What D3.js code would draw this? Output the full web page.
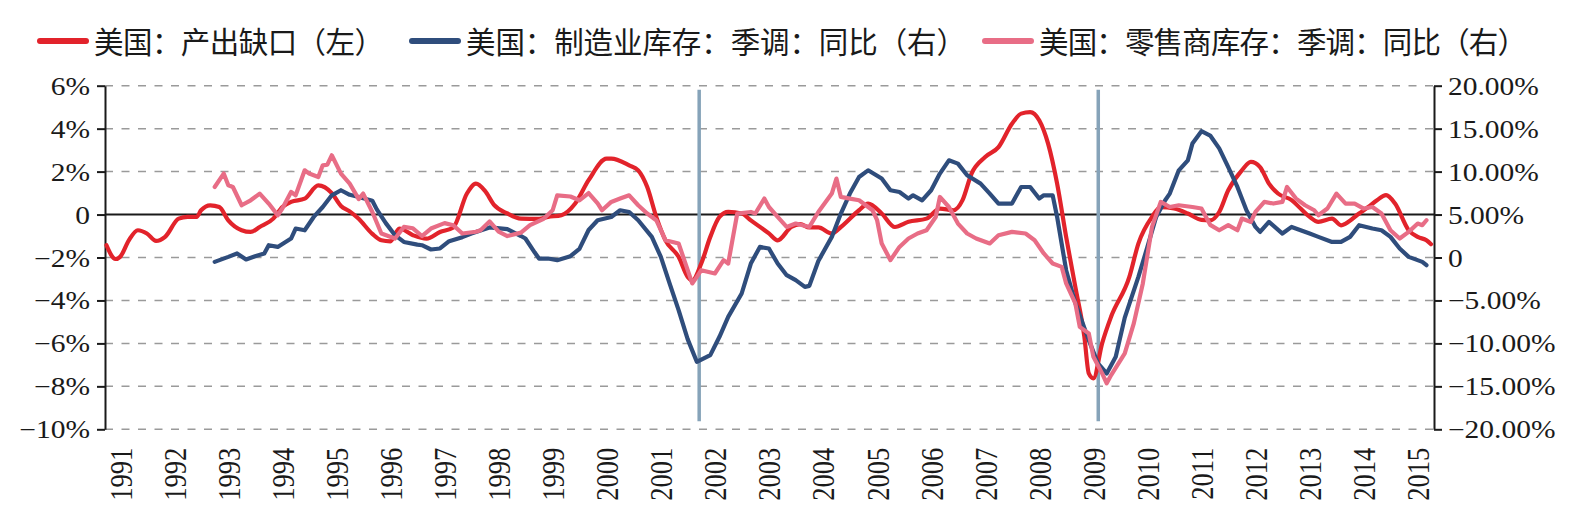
<!DOCTYPE html>
<html>
<head>
<meta charset="utf-8">
<script src="https://cdn.jsdelivr.net/npm/d3@7"></script>
<style>
  html, body { margin: 0; padding: 0; background: #fff; }
  svg { display: block; }
  .num-label { font-family: "Liberation Serif", "Times New Roman", serif; fill: #1a1a1a; }
  .legend-text { font-family: "Noto Sans CJK SC", sans-serif; fill: #1a1a1a; }
</style>
</head>
<body>
<div id="chart"></div>
<script>
(function() {
    'use strict';

    // 美国：产出缺口（左）
    var gapDates = ['1990-10','1990-12','1991-01','1991-03','1991-05','1991-07','1991-09','1991-11',
      '1992-02','1992-04','1992-06','1992-07','1992-09','1992-11','1993-01','1993-04','1993-06','1993-08',
      '1993-11','1994-01','1994-03','1994-06','1994-09','1994-12','1995-02','1995-04','1995-06','1995-09',
      '1995-11','1996-01','1996-03','1996-06','1996-09','1996-12','1997-03','1997-06','1997-08','1997-10',
      '1997-12','1998-03','1998-06','1998-10','1998-12','1999-03','1999-06','1999-09','2000-01','2000-02',
      '2000-06','2000-08','2000-10','2000-12','2001-02','2001-05','2001-07','2001-08','2001-10','2001-12',
      '2002-02','2002-04','2002-07','2002-09','2003-01','2003-03','2003-06','2003-08','2003-10','2003-12',
      '2004-03','2004-05','2004-09','2004-11','2005-02','2005-05','2005-08','2005-12','2006-03','2006-06',
      '2006-08','2006-10','2007-01','2007-04','2007-07','2007-09','2007-11','2008-01','2008-03','2008-05',
      '2008-07','2008-09','2008-11','2008-12','2009-01','2009-03','2009-05','2009-09','2009-11','2010-02',
      '2010-04','2010-07','2010-10','2011-01','2011-03','2011-05','2011-07','2011-10','2011-12','2012-02',
      '2012-04','2012-06','2012-09','2012-11','2013-01','2013-03','2013-06','2013-08','2013-09','2013-12',
      '2014-02','2014-04','2014-06','2014-08','2014-11','2015-01','2015-03','2015-04'];
    var gapValues = [-1.43,-2.07,-1.97,-1.2,-0.73,-0.88,-1.23,-1.04,
      -0.19,-0.11,-0.11,0.2,0.43,0.35,-0.27,-0.73,-0.81,-0.58,
      -0.19,0.35,0.59,0.74,1.36,1.0,0.4,0.15,-0.2,-0.9,
      -1.2,-1.25,-0.65,-0.96,-1.12,-0.81,-0.6,0.98,1.44,1.1,
      0.45,0.05,-0.19,-0.2,-0.11,-0.03,0.5,1.6,2.6,2.6,
      2.29,2.06,1.28,-0.11,-1.2,-1.97,-2.9,-3.06,-2.28,-1.04,
      -0.11,0.12,0.05,-0.27,-0.88,-1.2,-0.58,-0.45,-0.6,-0.6,
      -0.88,-0.58,0.2,0.51,0.05,-0.58,-0.34,-0.19,0.28,0.2,
      0.67,1.91,2.68,3.14,4.23,4.7,4.77,4.39,3.3,1.44,
      -1.04,-3.37,-5.69,-7.4,-7.63,-6.0,-4.75,-2.9,-1.35,-0.11,
      0.35,0.28,0.05,-0.25,-0.27,0.12,1.13,2.06,2.45,2.21,
      1.44,0.98,0.67,0.28,-0.11,-0.34,-0.19,-0.5,-0.42,0.05,
      0.35,0.67,0.9,0.51,-0.73,-1.04,-1.2,-1.38];

    // 美国：制造业库存：季调：同比（右）
    var mfgDates = ['1992-10','1993-01','1993-03','1993-05','1993-07','1993-09','1993-10','1993-12',
      '1994-03','1994-04','1994-06','1994-08','1994-10','1994-12','1995-02','1995-04','1995-06','1995-09',
      '1995-10','1995-12','1996-02','1996-04','1996-07','1996-08','1996-10','1996-12','1997-02','1997-05',
      '1997-07','1997-11','1998-03','1998-06','1998-07','1998-09','1998-10','1998-12','1999-02','1999-05',
      '1999-07','1999-09','1999-11','2000-02','2000-04','2000-06','2000-08','2000-11','2001-01','2001-03',
      '2001-05','2001-07','2001-09','2001-12','2002-02','2002-04','2002-07','2002-09','2002-11','2003-01',
      '2003-03','2003-05','2003-07','2003-09','2003-10','2003-12','2004-03','2004-05','2004-07','2004-09',
      '2004-11','2005-02','2005-04','2005-06','2005-08','2005-09','2005-11','2006-01','2006-03','2006-05',
      '2006-07','2006-09','2006-12','2007-02','2007-04','2007-07','2007-09','2007-11','2008-01','2008-02',
      '2008-04','2008-05','2008-07','2008-09','2008-12','2009-02','2009-04','2009-06','2009-08','2009-11',
      '2010-01','2010-03','2010-05','2010-06','2010-08','2010-10','2010-11','2011-01','2011-03','2011-05',
      '2011-07','2011-09','2011-11','2012-01','2012-02','2012-04','2012-07','2012-09','2012-11','2013-01',
      '2013-03','2013-06','2013-08','2013-10','2013-12','2014-03','2014-05','2014-07','2014-09','2014-11',
      '2015-02','2015-03'];
    var mfgValues = [-0.51,0.07,0.47,-0.23,0.15,0.47,1.43,1.23,
      2.21,3.37,3.17,4.72,5.88,7.24,7.83,7.3,7.05,6.6,
      5.6,4.0,2.6,1.81,1.5,1.43,0.93,1.05,1.9,2.37,
      2.8,3.5,3.3,2.5,2.21,0.6,-0.12,-0.12,-0.31,0.15,
      1.0,3.2,4.34,4.72,5.5,5.3,4.34,2.4,0.07,-3.02,
      -6.13,-9.5,-12.14,-11.36,-9.23,-6.91,-4.19,-0.7,1.23,1.05,
      -0.7,-2.06,-2.64,-3.42,-3.3,-0.4,2.4,5.12,7.44,9.37,
      10.15,9.19,7.83,7.63,6.86,7.24,6.66,7.83,9.77,11.31,
      10.93,9.57,8.6,7.44,6.28,6.28,8.21,8.21,6.86,7.24,
      7.24,4.72,-1.48,-5.3,-9.62,-12.33,-13.5,-11.56,-7.0,-2.26,
      1.23,4.72,6.66,7.44,10.15,11.31,13.26,14.7,14.2,12.7,
      10.53,8.21,5.5,3.56,2.98,4.14,2.79,3.56,3.17,2.79,
      2.4,1.81,1.81,2.4,3.76,3.37,3.17,2.4,1.05,0.07,
      -0.51,-0.9];

    // 美国：零售商库存：季调：同比（右）
    var retailDates = ['1992-10','1992-12','1993-01','1993-02','1993-04','1993-06','1993-08','1993-10',
      '1993-12','1994-01','1994-03','1994-04','1994-06','1994-07','1994-09','1994-10','1994-11','1994-12',
      '1995-02','1995-04','1995-06','1995-07','1995-09','1995-11','1996-02','1996-04','1996-06','1996-08',
      '1996-10','1997-01','1997-03','1997-05','1997-08','1997-09','1997-11','1998-01','1998-03','1998-06',
      '1998-08','1998-11','1999-01','1999-02','1999-05','1999-07','1999-09','1999-11','1999-12','2000-02',
      '2000-04','2000-06','2000-08','2000-10','2000-12','2001-02','2001-05','2001-06','2001-08','2001-09',
      '2001-10','2002-01','2002-03','2002-04','2002-06','2002-09','2002-10','2002-12','2003-01','2003-03',
      '2003-05','2003-07','2003-10','2003-12','2004-03','2004-04','2004-05','2004-07','2004-09','2004-12',
      '2005-01','2005-02','2005-04','2005-06','2005-08','2005-10','2005-12','2006-02','2006-03','2006-05',
      '2006-07','2006-09','2006-11','2007-02','2007-04','2007-07','2007-10','2007-12','2008-02','2008-04',
      '2008-06','2008-07','2008-09','2008-10','2008-12','2009-01','2009-03','2009-04','2009-05','2009-08',
      '2009-10','2009-12','2010-02','2010-04','2010-06','2010-08','2010-11','2011-01','2011-03','2011-05',
      '2011-07','2011-09','2011-10','2011-12','2012-01','2012-03','2012-05','2012-07','2012-08','2012-10',
      '2012-12','2013-02','2013-03','2013-05','2013-07','2013-09','2013-11','2014-01','2014-03','2014-05',
      '2014-07','2014-09','2014-11','2015-01','2015-02','2015-03'];
    var retailValues = [8.21,9.77,8.41,8.21,6.08,6.66,7.44,6.28,
      4.92,5.7,7.63,7.24,10.15,9.77,9.37,10.73,10.8,11.9,
      9.77,8.6,6.8,7.44,5.3,2.79,2.21,3.56,3.4,2.5,
      3.37,4.0,3.76,2.79,3.0,3.17,4.2,3.0,2.5,2.9,
      3.76,4.5,5.5,7.24,7.1,6.66,7.5,6.3,5.5,6.47,
      6.86,7.24,6.08,5.12,4.34,2.01,1.63,0.07,-3.02,-2.26,
      -1.48,-1.86,-0.31,-0.7,5.12,5.3,5.12,6.86,5.88,4.72,
      3.56,3.95,3.56,5.3,7.44,9.19,7.05,6.86,6.66,5.5,
      4.34,1.63,-0.31,1.23,2.21,2.79,3.17,4.72,7.05,5.88,
      3.95,2.79,2.21,1.63,2.59,2.98,2.79,2.01,0.47,-0.7,
      -1.09,-3.02,-5.35,-8.07,-8.84,-11.56,-13.49,-14.65,-13.69,-11.16,
      -7.67,-3.02,3.56,6.47,5.88,6.08,5.88,5.7,3.8,3.17,
      3.76,3.17,4.53,4.14,5.3,6.47,6.28,6.47,8.21,6.86,
      6.08,5.5,4.92,5.7,7.44,6.28,6.28,5.7,5.88,5.12,
      3.17,2.21,2.98,3.95,3.76,4.34];

    var leftTicks = [6, 4, 2, 0, -2, -4, -6, -8, -10];
    var rightTicks = [20, 15, 10, 5, 0, -5, -10, -15, -20];
    var yearTicks = d3.range(1991, 2016);
    var markerDates = ['2001-09-17', '2009-02-03'];

    var legendItems = [
        {name: '美国：产出缺口（左）', color: '#e2232b', x: 38, width: 290},
        {name: '美国：制造业库存：季调：同比（右）', color: '#2f4d7c', x: 410, width: 500},
        {name: '美国：零售商库存：季调：同比（右）', color: '#e86d86', x: 983, width: 488}
    ];

    var fullWidth = 1586, fullHeight = 532;
    var stretch = 1.18;   // numbers in the source are drawn a bit wide

    var chartAreaSz = {left: 105, right: 1434, top: 85.7, bottom: 429.3};

    var parseMonth = d3.timeParse('%Y-%m');
    var parseDay = d3.timeParse('%Y-%m-%d');

    function toPoints(dates, values) {
        return dates.map(function(d, i) { return {x: parseMonth(d), y: values[i]}; });
    }

    var x = d3.scaleTime()
      .domain([new Date(1990, 8, 21), new Date(2015, 3, 21)])
      .range([chartAreaSz.left, chartAreaSz.right]);

    var yLeft = d3.scaleLinear()
      .domain([-10, 6])
      .range([chartAreaSz.bottom, chartAreaSz.top]);

    var yRight = d3.scaleLinear()
      .domain([-20, 20])
      .range([chartAreaSz.bottom, chartAreaSz.top]);

    var svg = d3.select('#chart')
    .append('svg')
      .attr('width', fullWidth)
      .attr('height', fullHeight)
      .attr('viewBox', '0 0 ' + fullWidth + ' ' + fullHeight);

    // grid
    svg.append('g')
      .attr('id', 'horizontalGrid')
    .selectAll('line')
    .data(leftTicks.filter(function(d) { return d !== 0; }))
    .enter().append('line')
      .attr('x1', chartAreaSz.left)
      .attr('x2', chartAreaSz.right)
      .attr('y1', function(d) { return yLeft(d); })
      .attr('y2', function(d) { return yLeft(d); })
      .attr('stroke', '#9a9a9a')
      .attr('stroke-width', 1.5)
      .attr('stroke-dasharray', '8,8.5');

    svg.append('line')
      .attr('x1', chartAreaSz.left)
      .attr('x2', chartAreaSz.right)
      .attr('y1', yLeft(0))
      .attr('y2', yLeft(0))
      .attr('stroke', '#1a1a1a')
      .attr('stroke-width', 2);

    // recession markers
    svg.append('g')
      .attr('id', 'markers')
    .selectAll('line')
    .data(markerDates)
    .enter().append('line')
      .attr('x1', function(d) { return x(parseDay(d)); })
      .attr('x2', function(d) { return x(parseDay(d)); })
      .attr('y1', chartAreaSz.top + 4)
      .attr('y2', chartAreaSz.bottom - 8)
      .attr('stroke', '#86a3b9')
      .attr('stroke-width', 3.5);

    // axes
    var fmtLeft = d3.format('d');
    var fmtRight = d3.format('.2f');

    var yAxisLeft = d3.axisLeft(yLeft)
      .tickValues(leftTicks)
      .tickSize(8)
      .tickSizeOuter(0)
      .tickFormat(function(d) { return d === 0 ? '0' : fmtLeft(d) + '%'; });

    var gLeft = svg.append('g')
      .attr('transform', 'translate(' + chartAreaSz.left + ',0)')
      .call(yAxisLeft);

    var yAxisRight = d3.axisRight(yRight)
      .tickValues(rightTicks)
      .tickSize(8)
      .tickSizeOuter(0)
      .tickFormat(function(d) { return d === 0 ? '0' : fmtRight(d) + '%'; });

    var gRight = svg.append('g')
      .attr('transform', 'translate(' + chartAreaSz.right + ',0)')
      .call(yAxisRight);

    [gLeft, gRight].forEach(function(g) {
        g.select('.domain').attr('stroke', '#1a1a1a').attr('stroke-width', 2);
        g.selectAll('.tick line').attr('stroke', '#1a1a1a').attr('stroke-width', 2);
        g.selectAll('text')
          .attr('class', 'num-label')
          .attr('font-size', 25)
          .attr('fill', '#1a1a1a')
          .attr('dy', '0.34em')
          .attr('transform', 'scale(' + stretch + ',1)');
    });
    gLeft.selectAll('text').attr('x', -15 / stretch);
    gRight.selectAll('text').attr('x', 14 / stretch);

    var xAxis = d3.axisBottom(x)
      .tickValues(yearTicks.map(function(yr) { return new Date(yr, 0, 1); }))
      .tickSize(0)
      .tickFormat(d3.timeFormat('%Y'));

    var gX = svg.append('g')
      .attr('transform', 'translate(0,' + chartAreaSz.bottom + ')')
      .call(xAxis);

    gX.select('.domain').remove();
    gX.selectAll('text')
      .attr('class', 'num-label')
      .attr('font-size', 26.5)
      .attr('fill', '#1a1a1a')
      .attr('x', 0)
      .attr('y', 0)
      .attr('dy', '0.35em')
      .attr('text-anchor', 'end')
      .attr('transform', 'translate(0,18.5) scale(' + stretch + ',1) rotate(-90)');

    // series
    var series = [
        {points: toPoints(gapDates, gapValues), y: yLeft, color: legendItems[0].color, curve: d3.curveMonotoneX},
        {points: toPoints(mfgDates, mfgValues), y: yRight, color: legendItems[1].color, curve: d3.curveLinear},
        {points: toPoints(retailDates, retailValues), y: yRight, color: legendItems[2].color, curve: d3.curveLinear}
    ];

    series.forEach(function(s) {
        var lineGen = d3.line()
          .curve(s.curve)
          .x(function(d) { return x(d.x); })
          .y(function(d) { return s.y(d.y); });

        svg.append('path')
          .attr('d', lineGen(s.points))
          .attr('fill', 'none')
          .attr('stroke', s.color)
          .attr('stroke-width', 4.2)
          .attr('stroke-linejoin', 'round')
          .attr('stroke-linecap', 'round');
    });

    // legend
    var legend = svg.append('g')
      .attr('id', 'legend')
    .selectAll('g')
    .data(legendItems)
    .enter().append('g')
      .attr('transform', function(d) { return 'translate(' + d.x + ',0)'; });

    legend.append('line')
      .attr('x1', 2)
      .attr('x2', 48)
      .attr('y1', 41)
      .attr('y2', 41)
      .attr('stroke', function(d) { return d.color; })
      .attr('stroke-width', 6)
      .attr('stroke-linecap', 'round');

    legend.append('text')
      .attr('class', 'legend-text')
      .attr('x', 56)
      .attr('y', 43)
      .attr('dy', '0.35em')
      .attr('font-size', 29.5)
      .attr('textLength', function(d) { return d.width; })
      .attr('lengthAdjust', 'spacing')
      .text(function(d) { return d.name; });

})();
</script>
</body>
</html>
